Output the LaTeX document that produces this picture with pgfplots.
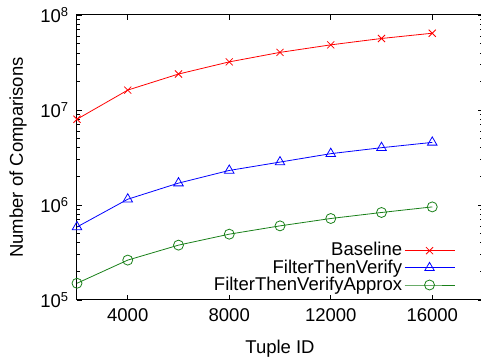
\documentclass[border=0pt]{standalone}
\usepackage{fontspec}
\setmainfont{Liberation Sans}
\usepackage{pgfplots}
\pgfplotsset{compat=1.18}
\definecolor{dgreen}{rgb}{0.1,0.5,0.1}
\begin{document}
\fontsize{18.5bp}{22bp}\selectfont
\begin{tikzpicture}
\begin{semilogyaxis}[
  scale only axis,
  width=406bp, height=285bp,
  xmin=2000, xmax=18000,
  ymin=1e5, ymax=1e8,
  scaled x ticks=false,
  xtick={4000,8000,12000,16000},
  xticklabels={4000,8000,12000,16000},
  ytick={1e5,1e6,1e7,1e8},
  yticklabels={10\textsuperscript{5},10\textsuperscript{6},10\textsuperscript{7},10\textsuperscript{8}},
  tick label style={font=\fontsize{18.5bp}{22bp}\selectfont},
  label style={font=\fontsize{18.5bp}{22bp}\selectfont},
  xlabel={Tuple ID},
  ylabel={Number of Comparisons},
  xlabel style={at={(axis description cs:0.5,0)},anchor=north,yshift=-34bp},
  ylabel style={at={(axis description cs:0,0.5)},anchor=south,yshift=44bp},
  x tick label style={yshift=-2bp},
  y tick label style={xshift=-2bp},
  major tick length=5bp,
  minor tick length=3bp,
  tick style={black, line width=0.6bp},
  axis line style={line width=1bp},
  tick align=inside,
  legend style={draw=none, fill=none, at={(axis cs:16894,2.18e5)}, anchor=east,
    inner sep=0pt, outer sep=0pt,
    font=\fontsize{18.5bp}{22bp}\selectfont, row sep=-3bp, legend cell align=right,
    /tikz/every even column/.append style={column sep=13bp}},
  legend plot pos=right,
  legend image code/.code={
    \draw[#1, mark repeat=2, mark phase=2] plot coordinates {(0bp,0bp) (25bp,0bp) (50bp,0bp)};},
]
\addplot[red, line width=0.8bp, mark=x, mark size=5bp, mark options={line width=0.8bp}] coordinates {
(2000,8.0e6) (4000,1.62e7) (6000,2.39e7) (8000,3.21e7) (10000,4.04e7) (12000,4.85e7) (14000,5.66e7) (16000,6.43e7)};
\addlegendentry{Baseline}
\addplot[blue, line width=0.8bp, mark=triangle, mark size=5.5bp, mark options={line width=0.8bp}] coordinates {
(2000,5.87e5) (4000,1.15e6) (6000,1.70e6) (8000,2.31e6) (10000,2.83e6) (12000,3.47e6) (14000,4.01e6) (16000,4.56e6)};
\addlegendentry{FilterThenVerify}
\addplot[dgreen, line width=0.8bp, mark=o, mark size=5bp, mark options={line width=0.8bp}] coordinates {
(2000,1.50e5) (4000,2.63e5) (6000,3.78e5) (8000,4.93e5) (10000,6.03e5) (12000,7.21e5) (14000,8.34e5) (16000,9.55e5)};
\addlegendentry{FilterThenVerifyApprox}
\end{semilogyaxis}
\pgfresetboundingbox
\useasboundingbox (-77bp,-62bp) rectangle (404bp,300bp);
\end{tikzpicture}
\end{document}
